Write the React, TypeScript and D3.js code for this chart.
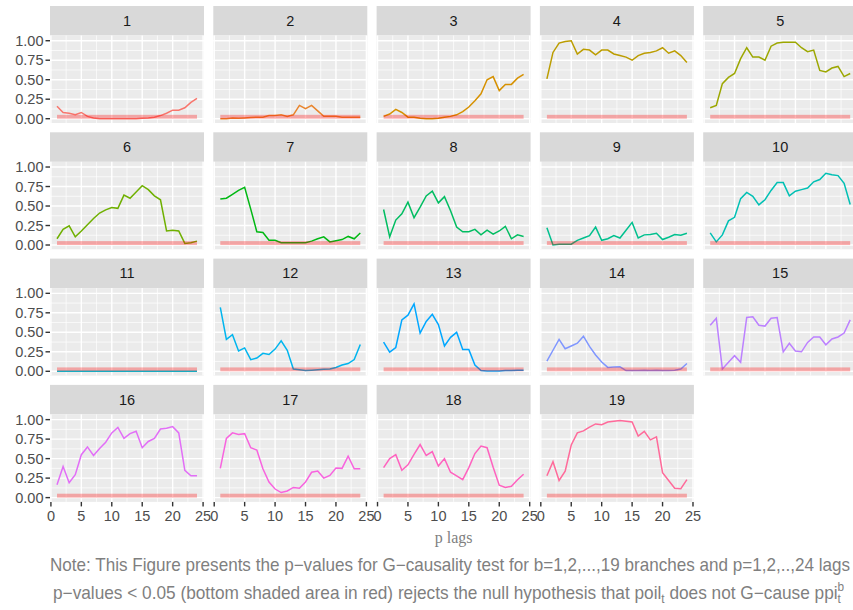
import React, { useLayoutEffect, useRef } from 'react'
import * as d3 from 'd3'

// lags on the x axis
const lags = [1, 2, 3, 4, 5, 6, 7, 8, 9, 10, 11, 12, 13, 14, 15, 16, 17, 18, 19, 20, 21, 22, 23, 24]

// p-values per branch
const b1 = [0.16, 0.08, 0.07, 0.05, 0.08, 0.03, 0.01, 0.0, 0.0, 0.0, 0.0, 0.0, 0.0, 0.0, 0.005, 0.01, 0.02, 0.04, 0.07, 0.11, 0.11, 0.14, 0.21, 0.26]
const b2 = [0.0, 0.0, 0.01, 0.005, 0.01, 0.015, 0.02, 0.02, 0.04, 0.04, 0.05, 0.03, 0.05, 0.17, 0.13, 0.17, 0.1, 0.03, 0.03, 0.03, 0.02, 0.02, 0.02, 0.02]
const b3 = [0.03, 0.06, 0.12, 0.08, 0.02, 0.02, 0.005, 0.0, 0.0, 0.005, 0.02, 0.03, 0.05, 0.09, 0.15, 0.23, 0.32, 0.5, 0.54, 0.36, 0.44, 0.44, 0.52, 0.57]
const b4 = [0.51, 0.85, 0.97, 0.99, 1.0, 0.83, 0.89, 0.88, 0.82, 0.88, 0.88, 0.83, 0.81, 0.79, 0.75, 0.81, 0.84, 0.85, 0.87, 0.91, 0.84, 0.87, 0.81, 0.72]
const b5 = [0.14, 0.17, 0.45, 0.53, 0.58, 0.77, 0.91, 0.79, 0.79, 0.75, 0.93, 0.97, 0.98, 0.98, 0.98, 0.91, 0.86, 0.88, 0.62, 0.6, 0.65, 0.67, 0.54, 0.58]
const b6 = [0.08, 0.2, 0.245, 0.105, 0.18, 0.26, 0.34, 0.41, 0.45, 0.48, 0.47, 0.64, 0.6, 0.68, 0.76, 0.71, 0.63, 0.58, 0.18, 0.19, 0.18, 0.02, 0.03, 0.05]
const b7 = [0.59, 0.6, 0.65, 0.7, 0.74, 0.46, 0.17, 0.16, 0.06, 0.06, 0.03, 0.03, 0.03, 0.03, 0.03, 0.05, 0.08, 0.105, 0.04, 0.055, 0.07, 0.11, 0.08, 0.155]
const b8 = [0.455, 0.105, 0.32, 0.4, 0.55, 0.35, 0.485, 0.63, 0.69, 0.54, 0.62, 0.44, 0.23, 0.17, 0.17, 0.2, 0.13, 0.19, 0.14, 0.18, 0.24, 0.08, 0.13, 0.11]
const b9 = [0.22, 0.0, 0.01, 0.01, 0.01, 0.06, 0.09, 0.12, 0.23, 0.06, 0.08, 0.12, 0.09, 0.19, 0.29, 0.09, 0.13, 0.135, 0.15, 0.07, 0.1, 0.135, 0.125, 0.15]
const b10 = [0.155, 0.04, 0.13, 0.31, 0.355, 0.595, 0.675, 0.625, 0.515, 0.58, 0.7, 0.8, 0.8, 0.63, 0.69, 0.71, 0.73, 0.81, 0.84, 0.92, 0.9, 0.89, 0.79, 0.52]
const b11 = [0.0, 0.0, 0.0, 0.0, 0.0, 0.0, 0.0, 0.0, 0.0, 0.0, 0.0, 0.0, 0.0, 0.0, 0.0, 0.0, 0.0, 0.0, 0.0, 0.0, 0.0, 0.0, 0.0, 0.0]
const b12 = [0.82, 0.41, 0.47, 0.26, 0.3, 0.15, 0.17, 0.23, 0.215, 0.285, 0.39, 0.27, 0.03, 0.02, 0.01, 0.015, 0.02, 0.025, 0.03, 0.05, 0.08, 0.1, 0.15, 0.345]
const b13 = [0.375, 0.245, 0.305, 0.66, 0.72, 0.865, 0.49, 0.64, 0.73, 0.6, 0.325, 0.435, 0.5, 0.28, 0.28, 0.08, 0.01, 0.005, 0.005, 0.005, 0.01, 0.01, 0.015, 0.015]
const b14 = [0.13, 0.27, 0.41, 0.29, 0.325, 0.36, 0.45, 0.32, 0.21, 0.12, 0.05, 0.055, 0.057, 0.01, 0.01, 0.01, 0.015, 0.01, 0.015, 0.01, 0.01, 0.015, 0.03, 0.1]
const b15 = [0.59, 0.68, 0.03, 0.115, 0.2, 0.115, 0.69, 0.7, 0.59, 0.58, 0.68, 0.69, 0.25, 0.36, 0.26, 0.25, 0.37, 0.44, 0.44, 0.34, 0.415, 0.44, 0.49, 0.66]
const b16 = [0.165, 0.4, 0.19, 0.295, 0.55, 0.65, 0.54, 0.63, 0.71, 0.83, 0.9, 0.76, 0.82, 0.85, 0.64, 0.72, 0.76, 0.88, 0.89, 0.91, 0.83, 0.35, 0.28, 0.28]
const b17 = [0.375, 0.76, 0.83, 0.81, 0.82, 0.64, 0.61, 0.37, 0.2, 0.11, 0.065, 0.085, 0.13, 0.12, 0.2, 0.325, 0.34, 0.25, 0.285, 0.38, 0.375, 0.53, 0.37, 0.37]
const b18 = [0.385, 0.5, 0.55, 0.35, 0.42, 0.555, 0.68, 0.54, 0.59, 0.405, 0.5, 0.325, 0.28, 0.23, 0.385, 0.565, 0.66, 0.64, 0.39, 0.16, 0.13, 0.145, 0.23, 0.3]
const b19 = [0.28, 0.46, 0.22, 0.34, 0.675, 0.83, 0.855, 0.905, 0.945, 0.935, 0.97, 0.98, 0.99, 0.98, 0.97, 0.79, 0.85, 0.74, 0.78, 0.32, 0.22, 0.12, 0.115, 0.23]

const branches = ['1', '2', '3', '4', '5', '6', '7', '8', '9', '10', '11', '12', '13', '14', '15', '16', '17', '18', '19']
const series = [b1, b2, b3, b4, b5, b6, b7, b8, b9, b10, b11, b12, b13, b14, b15, b16, b17, b18, b19]

const yTicks = [0, 0.25, 0.5, 0.75, 1]
const yTickLabels = ['0.00', '0.25', '0.50', '0.75', '1.00']
const yMinor = [0.125, 0.375, 0.625, 0.875]
const xTicks = [0, 5, 10, 15, 20, 25]
const xMinor = [2.5, 7.5, 12.5, 17.5, 22.5]
const band = { x0: 1, x1: 24, y0: 0, y1: 0.05 }

// ggplot's hue_pal: polarLUV(l=65, c=100, h) -> sRGB
function hcl(h: number, c: number, l: number) {
    const hr = (h * Math.PI) / 180
    const U = c * Math.cos(hr)
    const V = c * Math.sin(hr)
    const Xn = 95.047, Yn = 100, Zn = 108.883
    const Y = l > 7.999592 ? Yn * Math.pow((l + 16) / 116, 3) : (Yn * l) / 903.3
    const den = Xn + 15 * Yn + 3 * Zn
    const un = (4 * Xn) / den, vn = (9 * Yn) / den
    const u = U / (13 * l) + un
    const v = V / (13 * l) + vn
    const X = (9 * Y * u) / (4 * v)
    const Z = -X / 3 - 5 * Y + (3 * Y) / v
    const x = X / 100, y = Y / 100, z = Z / 100
    const lin = [
        3.240479 * x - 1.53715 * y - 0.498535 * z,
        -0.969256 * x + 1.875992 * y + 0.041556 * z,
        0.055648 * x - 0.204043 * y + 1.057311 * z,
    ]
    const g = lin.map(t => {
        const s = t <= 0.0031308 ? 12.92 * t : 1.055 * Math.pow(t, 1 / 2.4) - 0.055
        return Math.round(Math.max(0, Math.min(1, s)) * 255)
    })
    return d3.rgb(g[0], g[1], g[2]).formatHex()
}

const colors = branches.map((_, i) => hcl(15 + (i * 360) / 19, 100, 65))

const W = 853
const H = 610
const left0 = 50
const colPitch = 163.3
const panelW = 154
const top0 = 6
const rowPitch = 126.3
const stripH = 29.5
const panelH = 87.5
const FONT = '"Liberation Sans", Arial, Helvetica, sans-serif'

// squeeze a caption line to the width it has in the figure
function Caption({ x0, target, y, children }: any) {
    const ref = useRef<SVGGElement>(null)
    useLayoutEffect(() => {
        const g = ref.current
        if (!g) return
        g.removeAttribute('transform')
        const bb = g.getBBox()
        const k = target / bb.width
        g.setAttribute('transform', `translate(${x0},0) scale(${k},1) translate(${-bb.x},0)`)
    }, [x0, target])
    return (
        <g ref={ref}>
            <text x={0} y={y} fill="#7F7F7F" fontSize={17.5} fontFamily={FONT}>
                {children}
            </text>
        </g>
    )
}

export default function App() {
    const x = d3.scaleLinear().domain([-0.15, 25.15]).range([0, panelW])
    const y = d3.scaleLinear().domain([-0.055, 1.067]).range([panelH, 0])
    const line = d3.line<number>()
        .x((d, i) => x(lags[i]))
        .y(d => y(d))

    return (
        <svg width={W} height={H} style={{ position: 'absolute', left: 0, top: 0, background: '#fff' }}>
            {series.map((vals, i) => {
                const col = i % 5
                const row = Math.floor(i / 5)
                const gx = left0 + col * colPitch
                const gy = top0 + row * rowPitch
                return (
                    <g key={i} transform={`translate(${gx},${gy})`}>
                        <rect width={panelW} height={stripH} fill="#D9D9D9" />
                        <text x={panelW / 2} y={stripH / 2} textAnchor="middle" dominantBaseline="central"
                            fill="#1A1A1A" fontSize={14.5} fontFamily={FONT}>{branches[i]}</text>
                        <g transform={`translate(0,${stripH})`}>
                            <rect width={panelW} height={panelH} fill="#EBEBEB" />
                            {yMinor.map(t => (
                                <line key={'ym' + t} x1={0} x2={panelW} y1={y(t)} y2={y(t)} stroke="#fff" strokeWidth={0.7} />
                            ))}
                            {xMinor.map(t => (
                                <line key={'xm' + t} x1={x(t)} x2={x(t)} y1={0} y2={panelH} stroke="#fff" strokeWidth={0.7} />
                            ))}
                            {yTicks.map(t => (
                                <line key={'y' + t} x1={0} x2={panelW} y1={y(t)} y2={y(t)} stroke="#fff" strokeWidth={1.4} />
                            ))}
                            {xTicks.map(t => (
                                <line key={'x' + t} x1={x(t)} x2={x(t)} y1={0} y2={panelH} stroke="#fff" strokeWidth={1.4} />
                            ))}
                            <path d={line(vals) || ''} fill="none" stroke={colors[i]} strokeWidth={1.5} />
                            <rect x={x(band.x0)} y={y(band.y1)} width={x(band.x1) - x(band.x0)}
                                height={y(band.y0) - y(band.y1)} fill="red" fillOpacity={0.3} />
                            {col === 0 && yTicks.map((t, k) => (
                                <g key={'yt' + t} transform={`translate(0,${y(t)})`}>
                                    <line x1={-4.5} x2={0} stroke="#333" strokeWidth={1.4} />
                                    <text x={-6.5} textAnchor="end" dominantBaseline="central" fill="#4D4D4D"
                                        fontSize={14.5} fontFamily={FONT}>{yTickLabels[k]}</text>
                                </g>
                            ))}
                            {row === 3 && xTicks.map(t => (
                                <g key={'xt' + t} transform={`translate(${x(t)},${panelH})`}>
                                    <line y1={0} y2={4.5} stroke="#333" strokeWidth={1.4} />
                                    <text y={14} textAnchor="middle" dominantBaseline="central" fill="#4D4D4D"
                                        fontSize={14.5} fontFamily={FONT}>{t}</text>
                                </g>
                            ))}
                        </g>
                    </g>
                )
            })}
            <text x={453.6} y={543} textAnchor="middle" fill="#7F7F7F" fontSize={16}
                fontFamily='"Liberation Serif", "Times New Roman", serif'>p lags</text>
            <Caption x0={50} target={801} y={571}>
                Note: This Figure presents the p−values for G−causality test for b=1,2,...,19 branches and p=1,2,..,24 lags
            </Caption>
            <Caption x0={53} target={792} y={599}>
                p−values &lt; 0.05 (bottom shaded area in red) rejects the null hypothesis that poil
                <tspan fontSize={12} dy={4}>t</tspan>
                <tspan dy={-4}> does not G−cause ppi</tspan>
                <tspan fontSize={12} dy={4}>t</tspan>
                <tspan fontSize={12} dx={-3.5} dy={-12}>b</tspan>
            </Caption>
        </svg>
    )
}
